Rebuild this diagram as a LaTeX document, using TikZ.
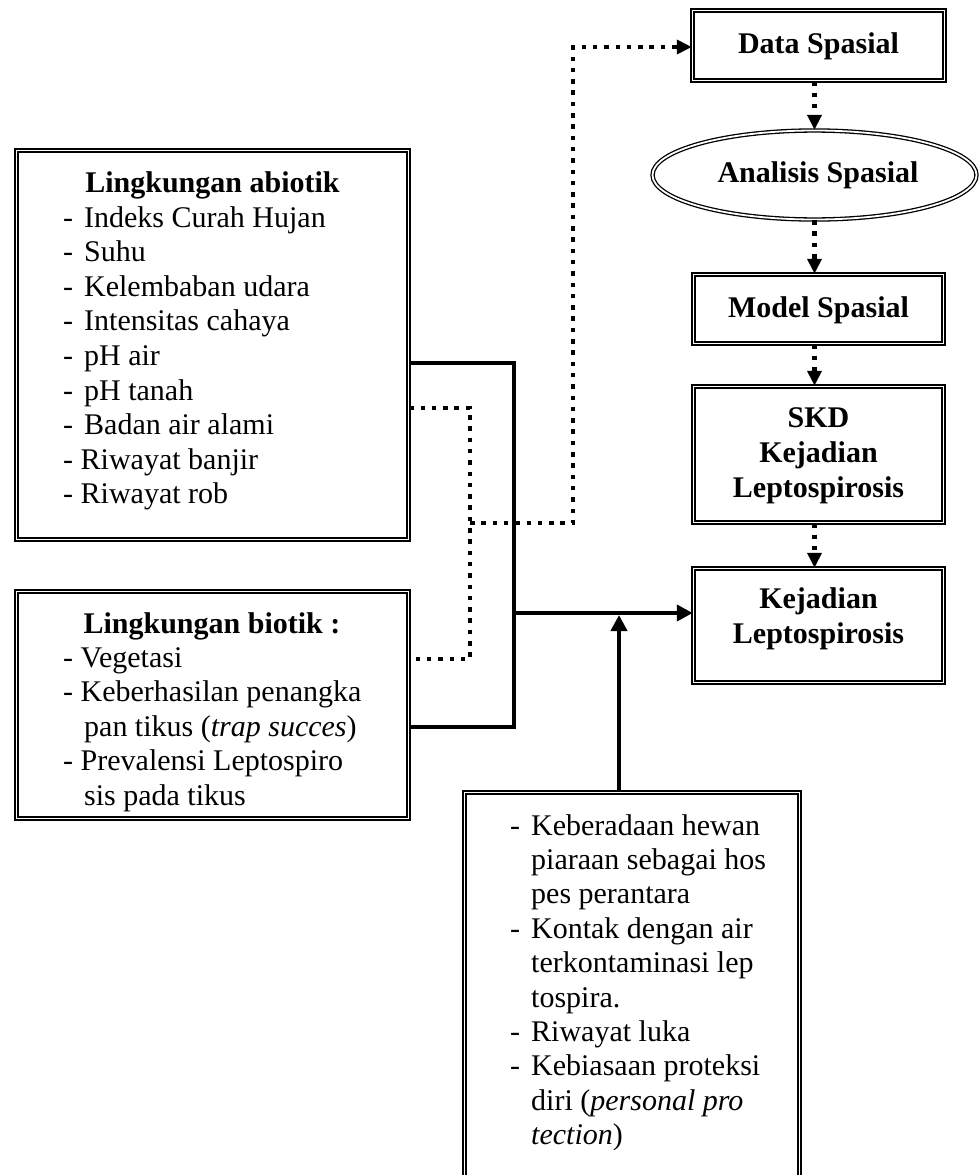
\documentclass[tikz,border=0pt]{standalone}
\usepackage{fontspec}
\setmainfont{Liberation Serif}
\usetikzlibrary{arrows.meta,shapes.geometric,calc}
\begin{document}
\begin{tikzpicture}[x=1pt,y=-1pt,
  box/.style={draw, double, double distance=1.8pt, line width=1.5pt, rectangle, inner sep=0pt},
  ell/.style={draw, double, double distance=1.8pt, line width=1.3pt, ellipse, inner sep=0pt},
  txt/.style={font=\fontsize{30}{34.6}\selectfont, inner sep=0pt},
  txtb/.style={font=\fontsize{30}{34.4}\selectfont, inner sep=0pt},
  txtc/.style={font=\fontsize{30}{35}\selectfont\bfseries, inner sep=0pt, align=center},
  solidln/.style={line width=4pt},
  dotln/.style={line width=4.5pt, dash pattern=on 4.5pt off 6.8pt},
  tipS/.style={-{Triangle[length=16pt,width=16pt]}},
  tipD/.style={-{Triangle[length=15pt,width=14pt]}},
]
\useasboundingbox (0,0) rectangle (979,1175);
\clip (0,0) rectangle (979,1175);

% ---------- boxes ----------
\node[box, minimum width=392pt, minimum height=389pt] (abio) at (212.5,345) {};
\node[box, minimum width=392pt, minimum height=227pt] (bio) at (212.5,705) {};
\node[box, minimum width=252pt, minimum height=70pt] (ds) at (818.5,45.5) {};
\node[ell, minimum width=324pt, minimum height=89pt] (ana) at (814.5,175) {};
\node[box, minimum width=250pt, minimum height=69pt] (ms) at (818.5,309) {};
\node[box, minimum width=250pt, minimum height=136pt] (skd) at (818.5,454.5) {};
\node[box, minimum width=250pt, minimum height=114pt] (kej) at (818.5,625.5) {};
\node[box, minimum width=335pt, minimum height=397pt] (bot) at (632,991) {};

% ---------- texts ----------
\node[txt, anchor=base, font=\fontsize{30}{34.6}\selectfont\bfseries] (tabio) at (212.5,192) {Lingkungan abiotik};
\node[txt, anchor=base west] (labio) at (63,227) {\begin{tabular}[t]{@{}l@{}}
-\hspace{11pt}Indeks Curah Hujan\\
-\hspace{11pt}Suhu\\
-\hspace{11pt}Kelembaban udara\\
-\hspace{11pt}Intensitas cahaya\\
-\hspace{11pt}pH air\\
-\hspace{11pt}pH tanah\\
-\hspace{11pt}Badan air alami\\
- Riwayat banjir\\
- Riwayat rob
\end{tabular}};

\node[txt, anchor=base, font=\fontsize{30}{34.6}\selectfont\bfseries] (tbio) at (212,633) {Lingkungan biotik :};
\node[txt, anchor=base west] (lbio) at (63,667) {\begin{tabular}[t]{@{}l@{}}
- Vegetasi\\
- Keberhasilan penangka\\
\hspace{21pt}pan tikus (\textit{trap succes})\\
- Prevalensi Leptospiro\\
\hspace{21pt}sis pada tikus
\end{tabular}};

\node[txtc, anchor=base] (tds) at (818.5,53) {Data Spasial};
\node[txtc, anchor=base] (tana) at (818,182) {Analisis Spasial};
\node[txtc, anchor=base] (tms) at (818.5,317) {Model Spasial};
\node[txtc, anchor=base] (tskd) at (818.5,427) {\begin{tabular}[t]{@{}c@{}}SKD\\Kejadian\\Leptospirosis\end{tabular}};
\node[txtc, anchor=base] (tkej) at (818.5,608) {\begin{tabular}[t]{@{}c@{}}Kejadian\\Leptospirosis\end{tabular}};

\node[txtb, anchor=base west] (lbot) at (510,835) {\begin{tabular}[t]{@{}l@{}}
-\hspace{11pt}Keberadaan hewan\\
\hspace{21pt}piaraan sebagai hos\\
\hspace{21pt}pes perantara\\
-\hspace{11pt}Kontak dengan air\\
\hspace{21pt}terkontaminasi lep\\
\hspace{21pt}tospira.\\
-\hspace{11pt}Riwayat luka\\
-\hspace{11pt}Kebiasaan proteksi\\
\hspace{21pt}diri (\textit{personal pro}\\
\hspace{21pt}\textit{tection})
\end{tabular}};

% ---------- connector points ----------
\coordinate (j1) at (514,363);
\coordinate (j2) at (514,727);
\coordinate (j3) at (514,613);
\coordinate (u) at (619,615);
\coordinate (d1) at (470,408);
\coordinate (d2) at (470,659);
\coordinate (d3) at (470,523);
\coordinate (d4) at (573,523);
\coordinate (d5) at (573,47);

% ---------- solid connectors ----------
\draw[solidln] (abio.east |- j1) -- (j1) -- (j2) -- (bio.east |- j2);
\draw[solidln, tipS] (j3) -- (kej.west |- j3);
\draw[solidln, tipS] (bot.north -| u) -- (u);

% ---------- dotted connectors ----------
\draw[dotln] (abio.east |- d1) -- (d1) -- (d2) -- (bio.east |- d2);
\draw[dotln, tipD] (d3) -- (d4) -- (d5) -- (ds.west |- d5);
\draw[dotln, tipD] (ds.south -| ana.north) -- (ana.north);
\draw[dotln, tipD] (ana.south) -- (ms.north -| ana.south);
\draw[dotln, tipD] (ms.south -| ana.south) -- (skd.north -| ana.south);
\draw[dotln, tipD] (skd.south -| ana.south) -- (kej.north -| ana.south);
\end{tikzpicture}
\end{document}
